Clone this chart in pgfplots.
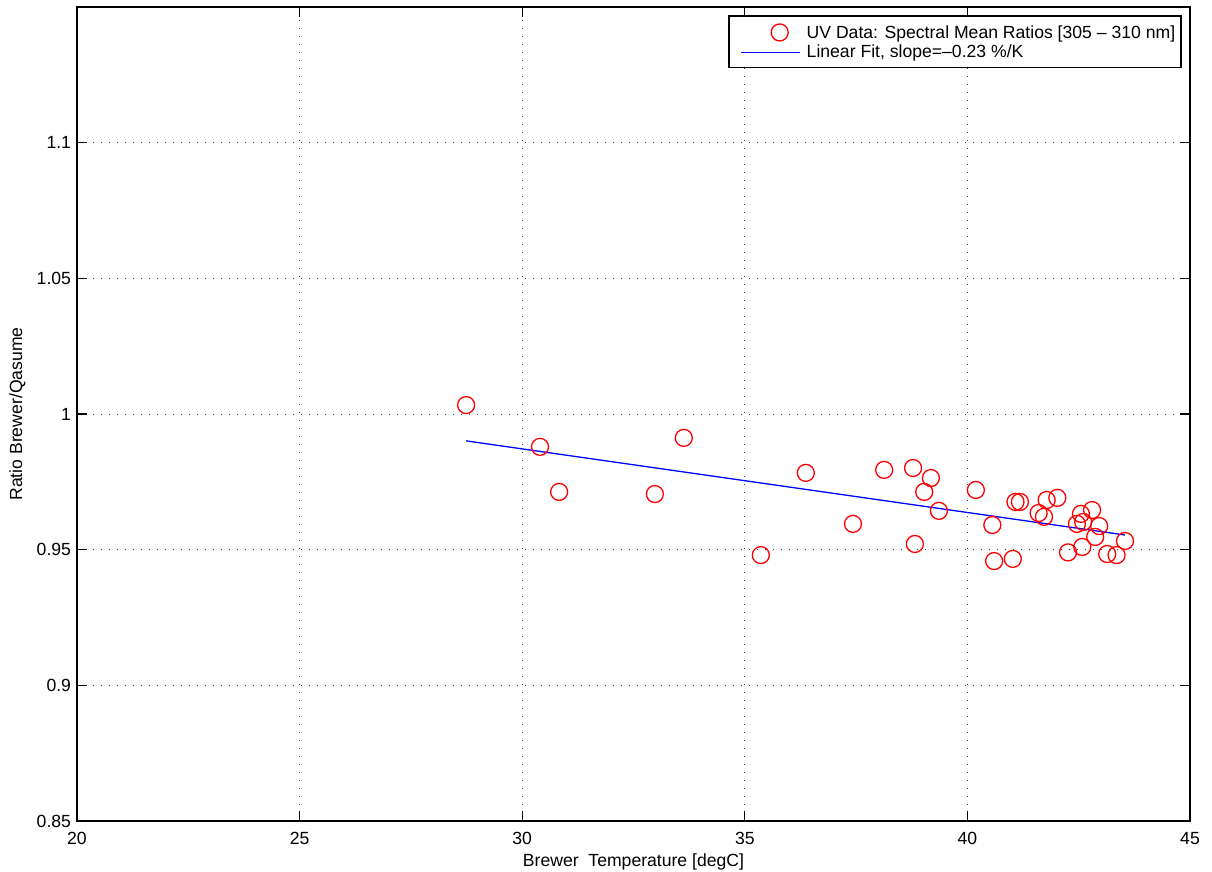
\documentclass[border=0pt]{standalone}
\usepackage{fontspec}
\setmainfont{Liberation Sans}
\usepackage{pgfplots}
\usepackage{pgfplotstable}
\pgfplotsset{compat=1.18}
\pgfplotstableread{
x y
28.74 1.0033
30.40 0.9879
30.83 0.9713
32.98 0.9705
33.63 0.9912
35.36 0.9480
36.37 0.9783
37.43 0.9595
38.13 0.9794
38.78 0.9801
38.82 0.9521
39.03 0.9713
39.18 0.9764
39.36 0.9643
40.19 0.9720
40.56 0.9591
40.60 0.9458
41.02 0.9466
41.08 0.9676
41.18 0.9676
41.60 0.9635
41.72 0.9621
41.78 0.9683
42.02 0.9691
42.26 0.9490
42.46 0.9595
42.55 0.9632
42.60 0.9602
42.58 0.9510
42.80 0.9646
42.87 0.9547
42.96 0.9587
43.14 0.9484
43.35 0.9480
43.54 0.9532
}\uvdata
\begin{document}
\begin{tikzpicture}[font=\fontsize{17.6bp}{21bp}\selectfont]
\begin{axis}[
 scale only axis, width=1113bp, height=814bp,
 xmin=20, xmax=45, ymin=0.85, ymax=1.15,
 xtick={20,25,30,35,40,45},
 ytick={0.85,0.9,0.95,1,1.05,1.1},
 yticklabels={0.85,0.9,0.95,1,1.05,1.1},
 /pgf/number format/assume math mode=true,
 xticklabel style={yshift=-8bp},
 yticklabel style={xshift=-2.5bp},
 xlabel shift=2bp, ylabel shift=4.5bp,
 grid=major,
 major grid style={black!75, line width=0.8bp, dash pattern=on 1bp off 7bp},
 axis line style={line width=1.6bp},
 tick align=inside, major tick length=10bp,
 tick style={black, line width=1.2bp},
 xlabel={Brewer\ \ Temperature [degC]},
 ylabel={Ratio Brewer/Qasume},
 legend cell align=left,
 legend style={at={(1,1)}, anchor=north east, xshift=-8bp, yshift=-8bp,
   draw=black, line width=1.6bp, inner xsep=0bp, inner ysep=7.5bp,
   row sep=3bp,
   nodes={inner xsep=6bp, inner ysep=0.5bp},
   font=\fontsize{17.6bp}{21bp}\selectfont},
]
\addplot[only marks, mark=o, mark size=8.5bp, red, mark options={line width=1.3bp},
  legend image code/.code={\path[draw=none] (-12bp,0bp) -- (59bp,0bp);
  \node[draw=red, circle, line width=1.3bp, minimum size=17bp, inner sep=0pt] at (29.5bp,0bp) {};}]
  table[x=x,y=y]{\uvdata};
\addlegendentry{UV Data: Spectral Mean Ratios [305 -- 310 nm]}
\addplot[blue, line width=1.3bp, no marks,
  legend image code/.code={\path[draw=none] (-12bp,0bp) -- (59bp,0bp);
  \draw[blue, line width=1.3bp] (0bp,0bp) -- (59bp,0bp);}]
  coordinates {(28.74,0.9901) (43.54,0.9554)};
\addlegendentry{Linear Fit, slope=--0.23 \%/K}
\coordinate (SW) at (rel axis cs:0,0);
\end{axis}
\pgfresetboundingbox
\useasboundingbox ([xshift=-77bp,yshift=-51bp]SW) rectangle ++(1212bp,872bp);
\end{tikzpicture}
\end{document}
